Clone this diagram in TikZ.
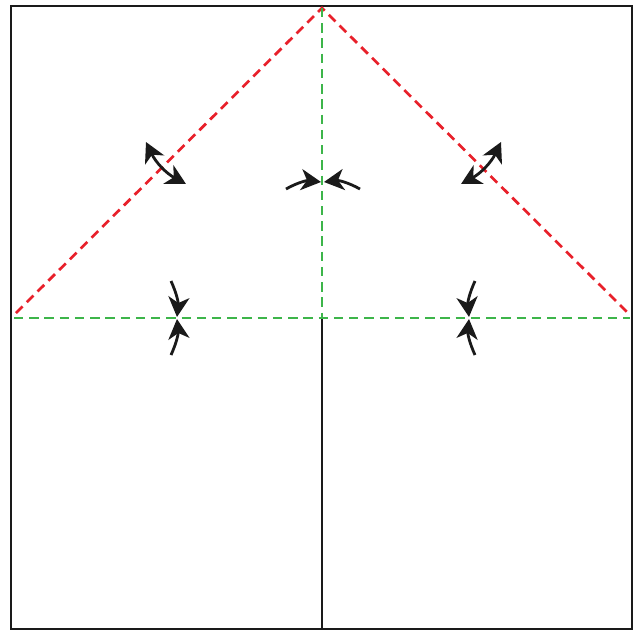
\documentclass[tikz,border=0pt]{standalone}
\usetikzlibrary{arrows.meta}
\definecolor{foldred}{HTML}{E8202A}
\definecolor{foldgreen}{HTML}{3DB54A}
\definecolor{ink}{HTML}{1A1A1A}

\begin{document}
\begin{tikzpicture}[
  x=0.03cm, y=-0.03cm,
  edge/.style={draw=ink, line width=2.3pt},
  mountain/.style={draw=foldred, line width=2.3pt, dash pattern=on 8pt off 5pt},
  valley/.style={draw=foldgreen, line width=2.3pt, dash pattern=on 8pt off 5pt},
  push/.style={draw=ink, line width=2.4pt, -{Stealth[length=17pt, width=18pt, inset=5pt]}},
  swing/.style={draw=ink, line width=2.4pt, {Stealth[length=17pt, width=18pt, inset=5pt]}-{Stealth[length=17pt, width=18pt, inset=5pt]}}
]
\useasboundingbox (0,0) rectangle (643,631);

% corners and creases
\coordinate (tl) at (11,6);
\coordinate (br) at (632,629);
\coordinate (apex) at (322,8);
\coordinate (ml) at (16,313);
\coordinate (mr) at (628,313);
\coordinate (cl) at (14,318);
\coordinate (cr) at (630,318);
\coordinate (cm) at (322,318);
\coordinate (bm) at (322,629);

\draw[edge] (tl) rectangle (br);
\draw[edge] (cm) -- (bm);
\draw[mountain] (ml) -- (apex) -- (mr);
\draw[valley] (apex) -- (cm);
\draw[valley] (cl) -- (cr);

% arrows
\draw[swing] (146,142) to[bend right=18] (186,184);
\draw[swing] (501,142) to[bend left=18] (461,184);
\draw[push] (286,189) to[bend left=18] (321,182);
\draw[push] (360,189) to[bend right=18] (324,182);
\draw[push] (171,281) to[bend left=15] (177,317);
\draw[push] (171,355) to[bend right=15] (177,319);
\draw[push] (475,281) to[bend right=15] (469,317);
\draw[push] (475,355) to[bend left=15] (469,319);
\end{tikzpicture}
\end{document}
